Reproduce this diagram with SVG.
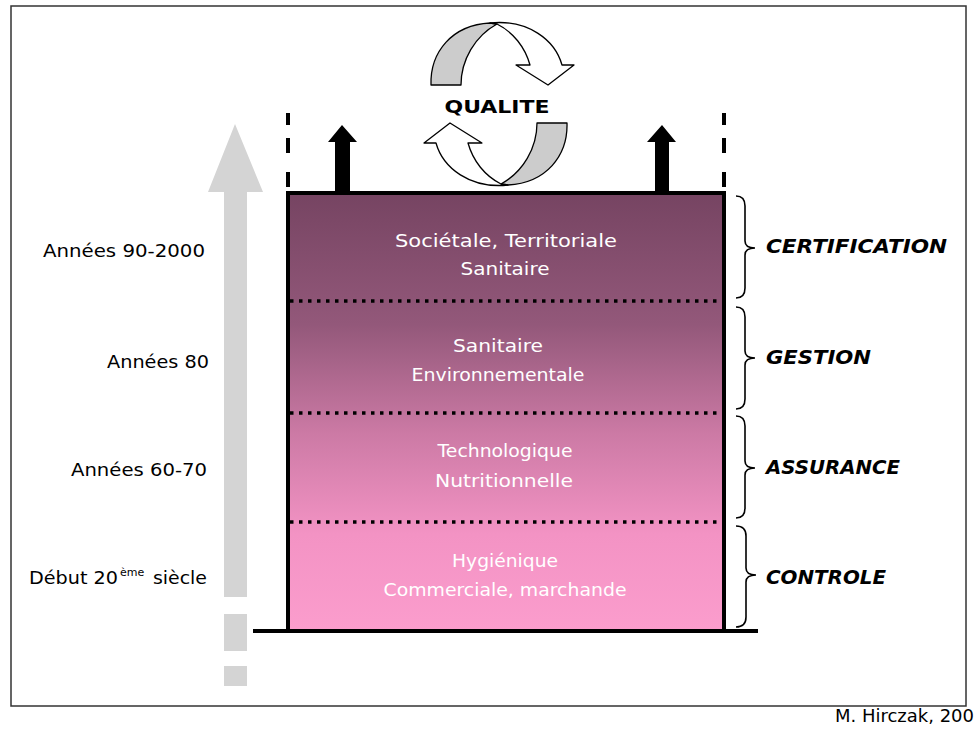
<svg xmlns="http://www.w3.org/2000/svg" width="974" height="729" viewBox="0 0 974 729">
<defs>
<linearGradient id="g" x1="0" y1="0" x2="0" y2="1">
<stop offset="0" stop-color="#764462"/>
<stop offset="0.3" stop-color="#93587a"/>
<stop offset="0.55" stop-color="#cc7aa5"/>
<stop offset="0.78" stop-color="#f393c4"/>
<stop offset="1" stop-color="#fb9dcd"/>
</linearGradient>
<style>
.lbl{font-family:"DejaVu Sans","Liberation Sans",sans-serif;font-size:18px;fill:#000}
.in{font-family:"DejaVu Sans","Liberation Sans",sans-serif;font-size:18px;fill:#fff;text-anchor:middle}
.cat{font-family:"DejaVu Sans","Liberation Sans",sans-serif;font-size:19px;font-weight:bold;font-style:italic;fill:#000}
.brace{fill:none;stroke:#000;stroke-width:1.6}
.dot{stroke:#000;stroke-width:3.5;stroke-dasharray:3.5 5.5}
.cyc{stroke:#000;stroke-width:1.3;stroke-linejoin:round}
.dash{stroke:#000;stroke-width:4;stroke-dasharray:12 13 15 19 15 20}
</style>
</defs>
<rect x="11" y="6" width="955" height="700" fill="#fff" stroke="#333" stroke-width="1.5"/>
<text x="835" y="722" font-family="DejaVu Sans, Liberation Sans, sans-serif" font-size="17" fill="#000" textLength="139" lengthAdjust="spacingAndGlyphs">M. Hirczak, 200</text>

<g id="time-arrow" fill="#d4d4d4">
<path d="M224,597 L224,192 L208,192 L235,124 L263,192 L247,192 L247,597 Z"/>
<rect x="224" y="614" width="23" height="37"/>
<rect x="224" y="666" width="23" height="20"/>
</g>

<g id="labels-left">
<text class="lbl" x="43" y="257" textLength="162" lengthAdjust="spacingAndGlyphs">Années 90-2000</text>
<text class="lbl" x="107" y="368" textLength="102" lengthAdjust="spacingAndGlyphs">Années 80</text>
<text class="lbl" x="71" y="476" textLength="136" lengthAdjust="spacingAndGlyphs">Années 60-70</text>
<text class="lbl" y="584"><tspan x="29" textLength="89" lengthAdjust="spacingAndGlyphs">Début 20</tspan><tspan x="120" dy="-8" font-size="11">ème</tspan><tspan x="153" dy="8" textLength="54" lengthAdjust="spacingAndGlyphs">siècle</tspan></text>
</g>

<g id="box">
<rect x="288" y="193" width="436" height="438" fill="url(#g)" stroke="#000" stroke-width="4"/>
<line class="dash" x1="288" y1="113" x2="288" y2="192"/>
<line class="dash" x1="724" y1="113" x2="724" y2="192"/>
<line x1="253" y1="631" x2="758" y2="631" stroke="#000" stroke-width="4"/>
<line class="dot" x1="290" y1="301" x2="722" y2="301"/>
<line class="dot" x1="290" y1="413" x2="722" y2="413"/>
<line class="dot" x1="290" y1="522" x2="722" y2="522"/>
</g>

<g id="up-arrows" fill="#000">
<path d="M335,193 L335,142 L328,142 L342,125 L357,142 L350,142 L350,193 Z"/>
<path d="M655,193 L655,142 L647,142 L662,125 L676,142 L669,142 L669,193 Z"/>
</g>

<g id="cycle">
<g id="cycle-top">
<path class="cyc" fill="#cccccc" d="M431,85 C430,52 452,25 490,23 L497,24 C475,36 461,60 461,85 Z"/>
<path class="cyc" fill="#fff" d="M490,23 C528,19 555,40 562,65 L574,65 L548,85 L516,65 L530,65 C525,47 513,32 497,24 Z"/>
</g>
<g id="cycle-bottom" transform="rotate(180 499 104)">
<path class="cyc" fill="#cccccc" d="M431,85 C430,52 452,25 490,23 L497,24 C475,36 461,60 461,85 Z"/>
<path class="cyc" fill="#fff" d="M490,23 C528,19 555,40 562,65 L574,65 L548,85 L516,65 L530,65 C525,47 513,32 497,24 Z"/>
</g>
<text x="497" y="113" text-anchor="middle" font-family="DejaVu Sans, Liberation Sans, sans-serif" font-size="18" font-weight="bold" textLength="105" lengthAdjust="spacingAndGlyphs">QUALITE</text>
</g>

<g id="layer-certification">
<text class="in" x="506" y="247" textLength="222" lengthAdjust="spacingAndGlyphs">Sociétale, Territoriale</text>
<text class="in" x="505" y="275" textLength="89" lengthAdjust="spacingAndGlyphs">Sanitaire</text>
<path class="brace" d="M736,196 Q745,196 745,206 L745,241 Q745,248 755,248 Q745,248 745,255 L745,288 Q745,298 736,298"/>
<text class="cat" x="766" y="253" textLength="181" lengthAdjust="spacingAndGlyphs">CERTIFICATION</text>
</g>
<g id="layer-gestion">
<text class="in" x="498" y="352" textLength="90" lengthAdjust="spacingAndGlyphs">Sanitaire</text>
<text class="in" x="498" y="381" textLength="173" lengthAdjust="spacingAndGlyphs">Environnementale</text>
<path class="brace" d="M736,307 Q745,307 745,317 L745,351 Q745,358 755,358 Q745,358 745,365 L745,399 Q745,409 736,409"/>
<text class="cat" x="766" y="364" textLength="105" lengthAdjust="spacingAndGlyphs">GESTION</text>
</g>
<g id="layer-assurance">
<text class="in" x="505" y="457" textLength="135" lengthAdjust="spacingAndGlyphs">Technologique</text>
<text class="in" x="504" y="487" textLength="138" lengthAdjust="spacingAndGlyphs">Nutritionnelle</text>
<path class="brace" d="M736,416 Q745,416 745,426 L745,461 Q745,468 755,468 Q745,468 745,475 L745,508 Q745,518 736,518"/>
<text class="cat" x="766" y="474" textLength="134" lengthAdjust="spacingAndGlyphs">ASSURANCE</text>
</g>
<g id="layer-controle">
<text class="in" x="505" y="567" textLength="106" lengthAdjust="spacingAndGlyphs">Hygiénique</text>
<text class="in" x="505" y="596" textLength="243" lengthAdjust="spacingAndGlyphs">Commerciale, marchande</text>
<path class="brace" d="M736,526 Q746,526 746,536 L746,568 Q746,575 756,575 Q746,575 746,582 L746,617 Q746,627 736,627"/>
<text class="cat" x="766" y="584" textLength="120" lengthAdjust="spacingAndGlyphs">CONTROLE</text>
</g>
</svg>
